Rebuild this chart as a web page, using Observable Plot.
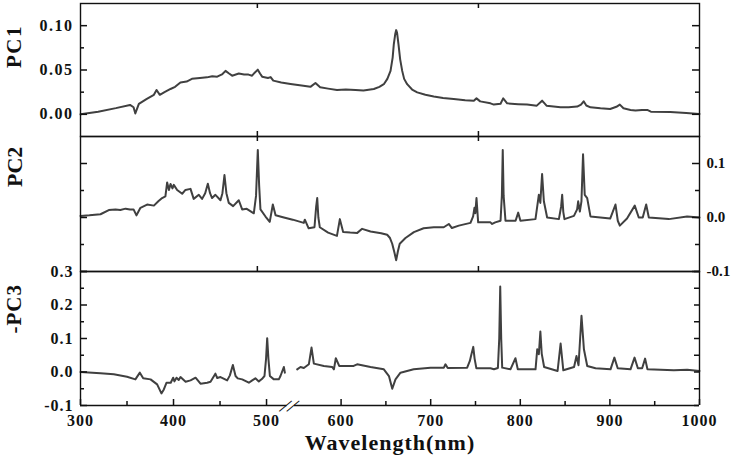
<!DOCTYPE html>
<html><head><meta charset="utf-8">
<script src="https://cdn.jsdelivr.net/npm/d3@7"></script>
<script src="https://cdn.jsdelivr.net/npm/@observablehq/plot@0.6"></script>
<style>
body{margin:0;background:#fff;}
#chart{position:relative;width:731px;height:466px;background:#fff;}
#chart svg{position:absolute;left:0;overflow:visible;}
</style></head><body><div id="chart"></div>
<script>
// ---------- data ----------
const pc1Wl = [300,320,340,356,360,362,366,375,383,386,389.7,395,401.8,407,413,420,426,435,443,449,454.6,460,464,468,471.5,479,485,490,494,497,500.5,503,505.4,512,515,518,527,537.5,550,560,565.7,571,580,590,600,611,620,631.7,638,643,647,650.6,653,654.3,656,657,658,659.6,661.5,663.8,666,669.4,675,680.8,690,699.5,710,722,735,744.8,747.8,752,763.6,767.4,775,778,782.5,795,805,816,822,827,835,842.8,852,861.7,866,869,872,876.7,888,899,906,909.9,914,922,927.6,935,940.9,945,967,985,1000];
const pc1Val = [0.000,0.003,0.007,0.0106,0.008,0.001,0.0117,0.0174,0.022,0.0275,0.022,0.025,0.0286,0.031,0.036,0.037,0.040,0.041,0.0417,0.043,0.0425,0.045,0.049,0.046,0.0436,0.046,0.045,0.0448,0.0436,0.047,0.0504,0.046,0.0425,0.041,0.042,0.038,0.036,0.0343,0.0325,0.031,0.0354,0.0305,0.029,0.0275,0.028,0.0275,0.027,0.0286,0.031,0.034,0.040,0.049,0.064,0.079,0.091,0.095,0.092,0.079,0.062,0.049,0.040,0.034,0.028,0.0248,0.022,0.020,0.0185,0.0174,0.016,0.0154,0.018,0.0146,0.0124,0.011,0.012,0.018,0.0124,0.0115,0.011,0.0098,0.0154,0.0098,0.0088,0.0079,0.008,0.0087,0.011,0.0147,0.010,0.0079,0.0068,0.006,0.0085,0.011,0.0068,0.005,0.0042,0.005,0.005,0.003,0.0027,0.0015,0.0005];

const pc2Wl = [300,310,322.6,332,339.6,345,351,356,360,363.3,367.8,375.3,383,388,392.3,396,398,400,401.8,404,405.5,409.3,415,418.7,424.4,428,433.8,437.5,441,444,446.5,448.8,452.6,458.3,460.5,462.8,465,467.7,472.6,479,482.8,488,496,498.5,500.5,502,503.5,509.2,514,517.5,520.6,530,540,552.5,553.7,558,564.6,566.5,567.7,569,570.6,580,588.4,590,593.3,597,605,613,618.5,628,640,646.8,650,652.5,655,657,659,661,667.5,677,688,699.5,710.8,716.5,720,727.8,741,744,745.5,746.5,747.8,749.7,755,763.6,765.5,769,775,776.5,777.5,778.5,780.6,792,795,797.5,814.5,818.3,820,822,824,827.7,841,843.5,844.7,846,847.3,858,861.6,862.8,864.7,866.5,868.3,870.2,873,876.7,899,905,907.6,909.9,918,926.8,931.3,935.8,939.7,942.7,965.3,986,1000];
const pc2Val = [0.003,0.004,0.006,0.0138,0.015,0.014,0.0164,0.015,0.015,0.004,0.018,0.024,0.022,0.03,0.036,0.039,0.065,0.051,0.062,0.054,0.0605,0.051,0.044,0.051,0.053,0.0345,0.042,0.0345,0.045,0.0624,0.045,0.036,0.042,0.032,0.045,0.0787,0.045,0.027,0.021,0.032,0.015,0.016,0.0078,0.04,0.125,0.06,0.015,0.0018,-0.008,0.024,0.004,0.0,-0.004,-0.010,-0.004,-0.020,-0.018,0.02,0.036,0.0,-0.018,-0.028,-0.033,-0.034,-0.003,-0.027,-0.028,-0.0285,-0.021,-0.026,-0.029,-0.032,-0.038,-0.0486,-0.065,-0.079,-0.062,-0.0486,-0.038,-0.027,-0.020,-0.018,-0.018,-0.012,-0.0195,-0.015,-0.010,0.002,0.018,0.008,0.036,-0.009,-0.009,-0.009,-0.012,-0.009,-0.006,0.04,0.125,0.04,-0.006,-0.006,0.009,-0.006,-0.003,0.042,0.027,0.0805,0.030,0.0,-0.003,0.02,0.042,0.01,-0.003,0.003,0.015,0.030,0.011,0.030,0.117,0.042,0.036,0.002,-0.002,0.024,-0.006,-0.015,-0.002,0.022,0.0,0.0,0.024,0.0,-0.003,0.002,0.0];

const pc3Wl = [300,321.5,335.8,350,359,363.8,367.4,375.3,382.4,387,389.6,392.5,397,399.6,401,403.2,405.6,407.5,413,418.3,423.7,429,436.2,439.8,445,447,450.5,457.7,460.6,463.8,466.7,469,473.8,481,484.6,488,491.7,495,497.8,499.5,500.7,502,503.6,507.9,513.2,515,518.6,519.7,
  551,554.7,558.4,564,567,569.6,580.8,590,592,594.1,597.9,614,617.9,632.8,647.7,653.4,657.1,660.7,666.3,681,699.8,714.7,716.5,719,740.7,743.7,745,747.5,749,751,766.7,770.6,775,776.5,777.6,778.7,779.8,789,794.6,797.2,817,818.9,820.7,822.4,823.9,826.6,841.6,845,848,860,862.7,865,868.3,871,874.7,884,900.7,905,908.7,923,927.5,931.2,936,939.3,941.9,971.4,986.3,1000];
const pc3Val = [0,-0.004,-0.007,-0.014,-0.022,-0.002,-0.019,-0.022,-0.037,-0.064,-0.052,-0.032,-0.032,-0.017,-0.028,-0.017,-0.024,-0.015,-0.029,-0.025,-0.017,-0.035,-0.032,-0.029,-0.005,-0.018,-0.015,-0.025,-0.01,0.021,-0.012,-0.019,-0.022,-0.032,-0.025,-0.019,-0.028,-0.021,-0.012,0.04,0.101,0.04,-0.012,-0.022,-0.022,-0.012,0.015,-0.002,
  0.008,0.015,0.012,0.023,0.073,0.025,0.018,0.015,0.008,0.041,0.018,0.018,0.023,0.015,0.008,-0.012,-0.050,-0.022,-0.002,0.008,0.013,0.013,0.023,0.012,0.013,0.033,0.048,0.075,0.04,0.011,0.011,0.008,0.012,0.1,0.255,0.1,0.013,0.008,0.041,0.008,0.008,0.068,0.053,0.121,0.055,0.015,0.003,0.085,0.005,0.015,0.048,0.020,0.168,0.068,0.018,0.011,0.008,0.043,0.011,0.008,0.043,0.011,0.011,0.040,0.008,0.005,0.007,0.003];

// axis break of the bottom panel (wavelengths where the gap starts / ends)
const xBreak = [522, 548];

// tick values
const xMajor = [300,400,500,600,700,800,900,1000];
const xMinor = [350,450,650,750,850,950];
const xTopTicks = [500,750];
const y1Major = [0,0.05,0.10];
const y1Minor = [0.025,0.075];
const y2Major = [-0.1,0,0.1];
const y2Minor = [-0.05,0.05];
const y3Major = [-0.1,0,0.1,0.2,0.3];
const y3Minor = [-0.05,0.05,0.15,0.25];

const titles = ["PC1","PC2","-PC3"];
const xTitle = "Wavelength(nm)";

// ---------- build ----------
const rows = (w, v) => w.map((d, i) => ({w: d, v: v[i]}));
const ink = "#111";
const curve = "#404040";
const baseStyle = {background: "transparent", overflow: "visible", fontFamily: "'Liberation Serif','Times New Roman',serif", fontWeight: "bold", color: ink};
const W = 731, ML = 80, MR = 32, FW = W - ML - MR;

// inward ticks: tick marks inset to a short length
function yIn(vals, len, right) {
  return Plot.tickY(vals, {y: d => d, stroke: ink, strokeWidth: 1.5, [right ? "insetLeft" : "insetRight"]: FW - len});
}
function xIn(vals, len, top, fh) {
  return Plot.tickX(vals, {x: d => d, stroke: ink, strokeWidth: 1.5, [top ? "insetBottom" : "insetTop"]: fh - len});
}
const titleMark = (t, dy, fs) => Plot.text([t], {frameAnchor: "left", dx: -66, dy, rotate: -90, fontSize: fs, fontWeight: "bold"});

const chart = document.getElementById("chart");
function place(svg, top) { svg.style.top = top + "px"; chart.appendChild(svg); }

// Panel 1
const fh1 = 133;
const p1 = Plot.plot({
  width: W, height: 140, marginTop: 3, marginBottom: 4, marginLeft: ML, marginRight: MR,
  style: {...baseStyle, fontSize: "16px", letterSpacing: "1.5px"},
  x: {domain: [300, 1000], label: null, axis: null},
  y: {domain: [-0.025, 0.125], label: null},
  marks: [
    Plot.line(rows(pc1Wl, pc1Val), {x: "w", y: "v", stroke: curve, strokeWidth: 2, strokeLinejoin: "round"}),
    Plot.frame({stroke: ink, strokeWidth: 1.4}),
    yIn(y1Major, 7, false), yIn(y1Minor, 4, false),
    yIn(y1Major, 7, true), yIn(y1Minor, 4, true),
    xIn(xTopTicks, 5, true, fh1), xIn(xTopTicks, 5, false, fh1),
    Plot.axisY(y1Major, {anchor: "left", tickSize: 0, tickPadding: 7, tickFormat: d => d.toFixed(2), label: null}),
    titleMark(titles[0], -2, 21)
  ]
});
place(p1, 0);

// Panel 2
const fh2 = 135;
const p2 = Plot.plot({
  width: W, height: 155, marginTop: 10, marginBottom: 10, marginLeft: ML, marginRight: MR,
  style: {...baseStyle, fontSize: "15px"},
  x: {domain: [300, 1000], label: null, axis: null},
  y: {domain: [-0.1, 0.15], label: null},
  marks: [
    Plot.line(rows(pc2Wl, pc2Val), {x: "w", y: "v", stroke: curve, strokeWidth: 2, strokeLinejoin: "round"}),
    Plot.frame({stroke: ink, strokeWidth: 1.4}),
    yIn(y2Major, 7, false), yIn(y2Minor, 4, false),
    yIn(y2Major, 7, true), yIn(y2Minor, 4, true),
    xIn(xTopTicks, 5, true, fh2), xIn(xTopTicks, 5, false, fh2),
    Plot.axisY(y2Major, {anchor: "right", tickSize: 0, tickPadding: 7, tickFormat: d => d.toFixed(1), label: null}),
    titleMark(titles[1], -17, 22)
  ]
});
place(p2, 126);

// Panel 3 (broken x axis)
const fh3 = 134;
const yDom3 = [-0.1, 0.3];
const p3 = Plot.plot({
  width: W, height: 206, marginTop: 11, marginBottom: 61, marginLeft: ML, marginRight: MR,
  style: {...baseStyle, fontSize: "16px", letterSpacing: "1px"},
  x: {type: "linear", domain: [300, xBreak[0], xBreak[1], 1000], range: [80, 286.5, 294, 699], label: null},
  y: {domain: yDom3, label: null},
  marks: [
    Plot.line(rows(pc3Wl, pc3Val), {x: "w", y: "v", z: d => d.w < xBreak[0] ? "a" : "b", stroke: curve, strokeWidth: 2, strokeLinejoin: "round"}),
    Plot.ruleY([yDom3[1]], {stroke: ink, strokeWidth: 1.4}),
    Plot.ruleX([300, 1000], {stroke: ink, strokeWidth: 1.4}),
    Plot.ruleY([yDom3[0]], {x1: 300, x2: xBreak[0], stroke: ink, strokeWidth: 1.4}),
    Plot.ruleY([yDom3[0]], {x1: xBreak[1], x2: 1000, stroke: ink, strokeWidth: 1.4}),
    Plot.text(xBreak, {x: d => d, y: () => yDom3[0], text: () => "|", rotate: 50, fontSize: 18, fontWeight: "normal", fill: ink}),
    yIn(y3Major, 7, false), yIn(y3Minor, 4, false),
    yIn(y3Major.concat(y3Minor), 5, true),
    xIn(xMajor, 6, false, fh3), xIn(xMinor, 4, false, fh3),
    Plot.axisX(xMajor, {anchor: "bottom", tickSize: 0, tickPadding: 9, tickFormat: d => String(d), label: null}),
    Plot.axisY(y3Major, {anchor: "left", tickSize: 0, tickPadding: 7, tickFormat: d => d.toFixed(1), label: null}),
    titleMark(titles[2], -5, 21),
    Plot.text([xTitle], {frameAnchor: "bottom", dy: 44, fontSize: 22, fontWeight: "bold"})
  ]
});
place(p3, 260);
</script></body></html>
